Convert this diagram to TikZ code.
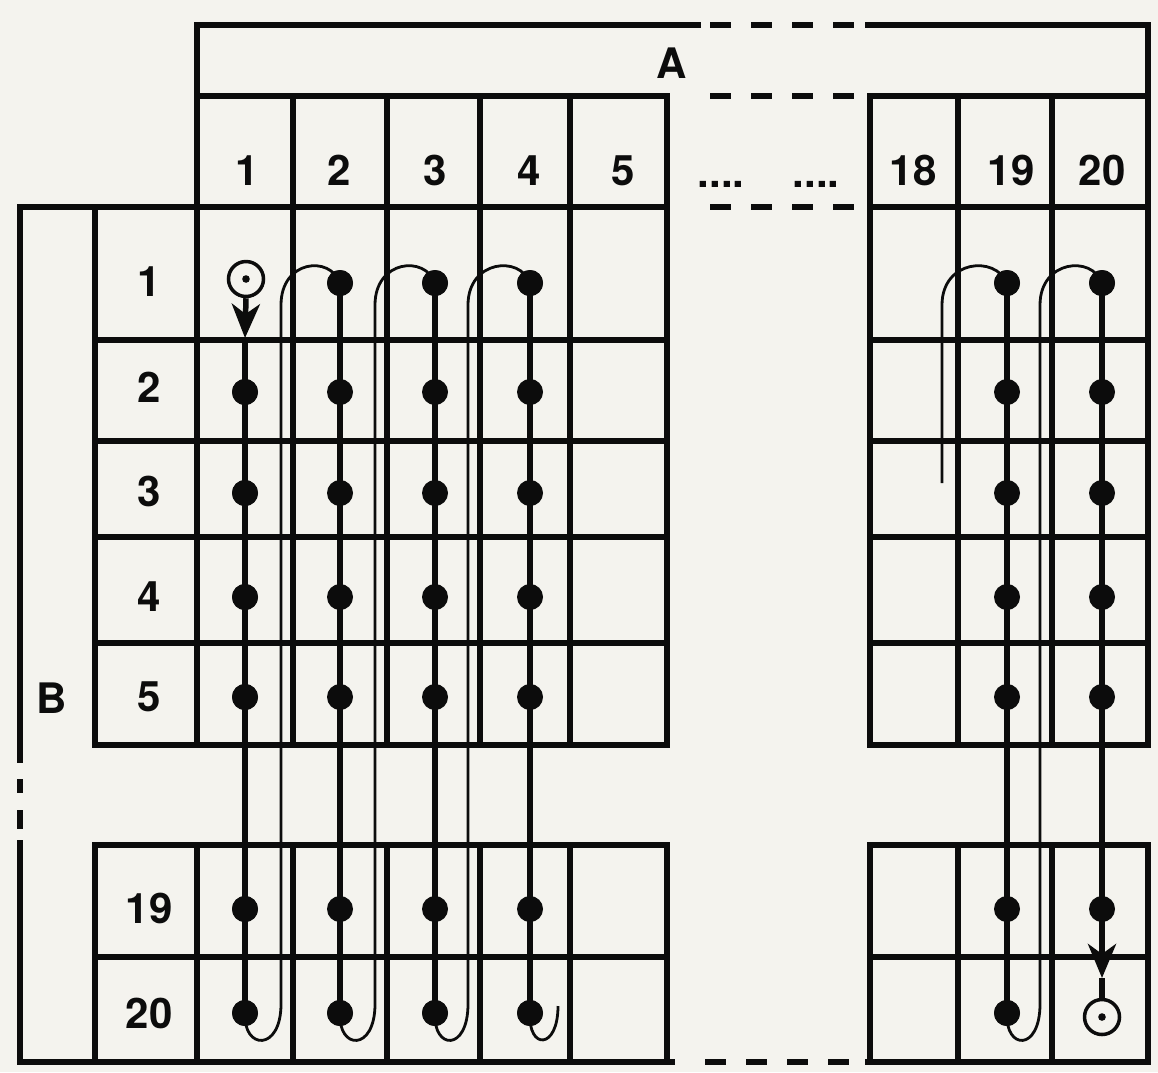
\documentclass[tikz,border=0pt]{standalone}
\usepackage{fontspec}
\setmainfont{TeX Gyre Heros}
\usetikzlibrary{arrows.meta}
\definecolor{paper}{RGB}{244,243,238}
\definecolor{ink}{RGB}{12,12,12}
\begin{document}
\begin{tikzpicture}[x=1pt,y=-1pt,
  grid/.style={draw=ink,line width=6pt,line cap=rect},
  gdash/.style={draw=ink,line width=6pt,dash pattern=on 21pt off 20pt},
  bead/.style={circle,fill=ink,inner sep=0pt,minimum size=26pt},
  ring/.style={circle,draw=ink,line width=3.5pt,inner sep=0pt,minimum size=35pt},
  heavy/.style={draw=ink,line width=5.5pt},
  fine/.style={draw=ink,line width=2.8pt},
  lbl/.style={font=\fontsize{42}{42}\selectfont\bfseries,anchor=base,inner sep=0pt,text=ink},
  tipstyle/.style={-{Stealth[length=34pt,width=28pt,inset=10pt]}}]
\useasboundingbox (0,0) rectangle (1158,1072);
\fill[paper] (0,0) rectangle (1158,1072);

% ---- A box and header
\draw[grid] (197,25) -- (698,25);
\draw[grid] (868,25) -- (1148,25);
\draw[gdash] (710,25) -- (855,25);
\draw[grid] (197,96) -- (667,96);
\draw[grid] (870,96) -- (1148,96);
\draw[gdash] (710,96) -- (855,96);
\draw[grid] (20,207) -- (667,207);
\draw[grid] (870,207) -- (1148,207);
\draw[gdash] (710,207) -- (855,207);
% bottom
\draw[grid] (20,1062) -- (672,1062);
\draw[grid] (868,1062) -- (1148,1062);
\draw[gdash] (705,1062) -- (850,1062);

% verticals
\draw[grid] (197,25) -- (197,745);
\draw[grid] (197,845) -- (197,1062);
\draw[grid] (1148,25) -- (1148,745);
\draw[grid] (1148,845) -- (1148,1062);
\foreach \x in {293,387,480,570,667,870,958,1052} {
  \draw[grid] (\x,96) -- (\x,745);
  \draw[grid] (\x,845) -- (\x,1062);
}
\draw[grid] (95,207) -- (95,745);
\draw[grid] (95,845) -- (95,1062);
% B box left side
\draw[grid] (20,207) -- (20,760);
\draw[grid] (20,843) -- (20,1062);
\draw[draw=ink,line width=6pt] (20,779) -- (20,793);
\draw[draw=ink,line width=6pt] (20,810) -- (20,829);

% row lines
\foreach \y in {340,441,537,643,745,845,957} {
  \draw[grid] (95,\y) -- (667,\y);
  \draw[grid] (870,\y) -- (1148,\y);
}

% ---- labels
\node[lbl] (A) at (672,78) {A};
\node[lbl] (B) at (52,713) {B};
\foreach \t/\x in {1/247,2/339,3/435,4/529,5/623,18/913,19/1011,20/1102}
  \node[lbl] (h\t) at (\x,185) {\t};
\node[lbl] (dotsa) at (721,187) {....};
\node[lbl] (dotsb) at (816,187) {....};
\foreach \t/\y in {1/296,2/402,3/506,4/611,5/711,19/923,20/1028}
  \node[lbl] (r\t) at (149,\y) {\t};

% ---- beads
\foreach \c/\x in {2/340,3/435,4/530,19/1007} {
  \foreach \r/\y in {1/283,2/392,3/493,4/597,5/697,19/909,20/1013}
    \node[bead] (c\c r\r) at (\x,\y) {};
}
\foreach \r/\y in {2/392,3/493,4/597,5/697,19/909,20/1013}
  \node[bead] (c1r\r) at (245,\y) {};
\foreach \r/\y in {1/283,2/392,3/493,4/597,5/697,19/909}
  \node[bead] (c20r\r) at (1102,\y) {};

\node[ring] (start) at (246,279) {};
\fill[ink] (start.center) circle (3.8pt);
\node[ring] (finish) at (1102,1017) {};
\fill[ink] (finish.center) circle (3.8pt);

\coordinate (tipS) at (245,338);
\coordinate (tipE) at (1102,978);
\coordinate (hookend) at (558,1006);
\coordinate (rstart) at (942,483);

% ---- heavy runs
\draw[heavy,tipstyle] (start.south) -- (tipS);
\draw[heavy] (tipS) -- (c1r20.center);
\draw[heavy] (c2r1.center) -- (c2r20.center);
\draw[heavy] (c3r1.center) -- (c3r20.center);
\draw[heavy] (c4r1.center) -- (c4r20.center);
\draw[heavy] (c19r1.center) -- (c19r20.center);
\draw[heavy] (c20r1.center) -- (c20r19.center);
\draw[heavy,tipstyle] (c20r19.center) -- (tipE);
\draw[heavy] (tipE) -- (finish.north);

% ---- fine returns
\draw[fine] (c1r20.center) .. controls (243,1050) and (281,1052) .. (281,1004)
  -- (281,305) .. controls (281,260) and (330,255) .. (c2r1.center);
\draw[fine] (c2r20.center) .. controls (338,1050) and (375,1052) .. (375,1004)
  -- (375,305) .. controls (375,260) and (425,255) .. (c3r1.center);
\draw[fine] (c3r20.center) .. controls (433,1050) and (468,1052) .. (468,1004)
  -- (468,305) .. controls (468,260) and (520,255) .. (c4r1.center);
\draw[fine] (c4r20.center) .. controls (528,1050) and (558,1050) .. (hookend);
\draw[fine] (rstart) -- (942,305) .. controls (942,260) and (995,255) .. (c19r1.center);
\draw[fine] (c19r20.center) .. controls (1005,1050) and (1040,1052) .. (1040,1004)
  -- (1040,305) .. controls (1040,260) and (1092,255) .. (c20r1.center);

% redraw beads on top
\foreach \n in {c1r2,c1r3,c1r4,c1r5,c1r19,c1r20,c2r1,c2r20,c3r1,c3r20,c4r1,c4r20,c19r1,c19r20,c20r1}
  \fill[ink] (\n.center) circle (13pt);
\end{tikzpicture}
\end{document}
